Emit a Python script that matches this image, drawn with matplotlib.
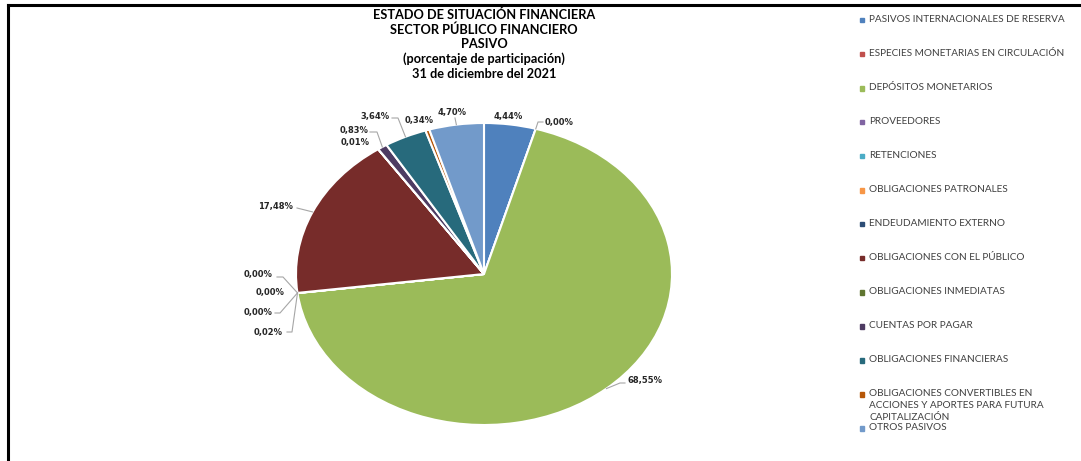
import numpy as np
import matplotlib.pyplot as plt
from matplotlib.lines import Line2D

plt.rcParams['font.family'] = ['Lato', 'DejaVu Sans']

TITLE = ("ESTADO DE SITUACIÓN FINANCIERA\nSECTOR PÚBLICO FINANCIERO\nPASIVO\n"
         "(porcentaje de participación)\n31 de diciembre del 2021")

categories = [
    "PASIVOS INTERNACIONALES DE RESERVA",
    "ESPECIES MONETARIAS EN CIRCULACIÓN",
    "DEPÓSITOS MONETARIOS",
    "PROVEEDORES",
    "RETENCIONES",
    "OBLIGACIONES PATRONALES",
    "ENDEUDAMIENTO EXTERNO",
    "OBLIGACIONES CON EL PÚBLICO",
    "OBLIGACIONES INMEDIATAS",
    "CUENTAS POR PAGAR",
    "OBLIGACIONES FINANCIERAS",
    "OBLIGACIONES CONVERTIBLES EN\nACCIONES Y APORTES PARA FUTURA\nCAPITALIZACIÓN",
    "OTROS PASIVOS",
]
shares = [4.44, 0.00, 68.55, 0.02, 0.00, 0.00, 0.00, 17.48, 0.01, 0.83, 3.64, 0.34, 4.70]
colors = ["#4F81BD", "#C0504D", "#9BBB59", "#8064A2", "#4BACC6", "#F79646", "#2C4D75",
          "#772C2A", "#5F7530", "#4D3B62", "#276A7C", "#B65708", "#729ACA"]

W, H = 1081, 461
fig = plt.figure(figsize=(W / 100, H / 100), dpi=100)

# ellipse-shaped pie: centre (484, 274) px, radii 188 x 151 px
cx, cy, rx, ry = 484, 274, 188, 151
ax = fig.add_axes([(cx - rx) / W, (H - cy - ry) / H, 2 * rx / W, 2 * ry / H])
wedges, _ = ax.pie(shares, colors=colors, startangle=90, counterclock=False,
                   wedgeprops=dict(edgecolor="white", linewidth=1.5))
ax.set_aspect("auto")
ax.set_xlim(-1, 1)
ax.set_ylim(-1, 1)
ax.axis("off")


def px2data(px, py):
    return (px - cx) / rx, (cy - py) / ry


# label placement in pixels: text anchor, alignment, leader-line elbow points
label_layout = [
    (508, 117, "center", None),
    (545, 122, "left", [(543, 122), (538, 122)]),
    (628, 380, "left", [(625, 383), (620, 383)]),
    (283, 332, "right", [(287, 332), (292, 332)]),
    (272, 313, "right", [(275, 313), (280, 313)]),
    (285, 293, "right", None),
    (273, 275, "right", [(277, 277), (283, 277)]),
    (293, 206, "right", [(297, 208)]),
    (370, 143, "right", None),
    (368, 130, "right", [(370, 132), (377, 132)]),
    (390, 116, "right", [(392, 118), (398, 118)]),
    (405, 121, "left", None),
    (452, 113, "center", [(455, 118)]),
]

for w, val, (lx, ly, ha, leader) in zip(wedges, shares, label_layout):
    mid = np.deg2rad((w.theta1 + w.theta2) / 2)
    tx, ty = px2data(lx, ly)
    ax.text(tx, ty, f"{val:.2f}%".replace(".", ","), ha=ha, va="center",
            fontsize=6, fontweight="bold", color="#262626", family="DejaVu Sans")
    if leader:
        pts = [px2data(px, py) for px, py in leader] + [(np.cos(mid), np.sin(mid))]
        xs, ys = zip(*pts)
        ax.plot(xs, ys, color="#A6A6A6", lw=0.8, clip_on=False)

fig.text(cx / W, 1 - 44 / H, TITLE, ha="center", va="center", fontsize=9.2,
         fontweight="bold", linespacing=1.25)

# legend on the right
for i, (lab, col) in enumerate(zip(categories, colors)):
    y = 20 + i * 34
    fig.patches.append(plt.Rectangle((859.5 / W, 1 - (y + 2.5) / H), 4.5 / W, 4.5 / H,
                                     transform=fig.transFigure, color=col))
    fig.text(869 / W, 1 - (y - 5.5) / H, lab, ha="left", va="top", fontsize=7.2,
             color="#404040", linespacing=1.45)

# frame lines (top and left)
fig.add_artist(Line2D([8 / W, 1], [1 - 5 / H, 1 - 5 / H], transform=fig.transFigure,
                      color="black", lw=2.2))
fig.add_artist(Line2D([8 / W, 8 / W], [0, 1 - 5 / H], transform=fig.transFigure,
                      color="black", lw=2.2))

fig.savefig("out.png", dpi=100)
